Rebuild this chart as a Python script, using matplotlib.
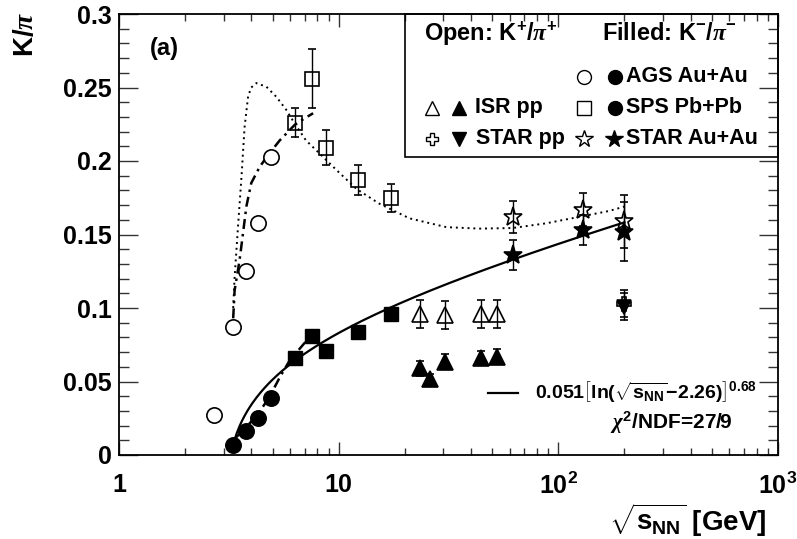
import numpy as np
import matplotlib
matplotlib.use("Agg")
import matplotlib.pyplot as plt
from matplotlib.patches import Rectangle
from matplotlib.ticker import FixedLocator, FixedFormatter, LogLocator, MultipleLocator, NullFormatter

# ---- data ----
# AGS Au+Au
ags_x = [2.7, 3.3, 3.8, 4.3, 4.9]
ags_kp = [0.027, 0.087, 0.125, 0.158, 0.203]
ags_km_x = [3.3, 3.8, 4.3, 4.9]
ags_km = [0.007, 0.016, 0.025, 0.039]
ags_km_err = [0.002, 0.003, 0.003, 0.004]

# SPS Pb+Pb
sps_x = [6.3, 7.6, 8.8, 12.3, 17.3]
sps_kp = [0.226, 0.256, 0.209, 0.187, 0.175]
sps_kp_err = [0.010, 0.020, 0.012, 0.010, 0.0095]
sps_km = [0.066, 0.081, 0.071, 0.084, 0.096]

# ISR pp
isr_x = [23.5, 30.6, 44.6, 52.8]
isr_kp = [0.096, 0.095, 0.096, 0.096]
isr_kp_err = [0.0095, 0.0095, 0.0095, 0.0095]
isr_km_x = [23.5, 26.0, 30.6, 44.6, 52.8]
isr_km = [0.059, 0.052, 0.0635, 0.066, 0.067]
isr_km_err = [0.005, 0.003, 0.005, 0.005, 0.005]

# STAR pp
starpp_x = [200]
starpp_kp = [0.103]
starpp_kp_err = [0.009]
starpp_km = [0.101]
starpp_km_err = [0.009]

# STAR Au+Au
star_x = [62.4, 130, 200]
star_kp = [0.162, 0.167, 0.159]
star_kp_err = [0.011, 0.011, 0.018]
star_km = [0.136, 0.153, 0.152]
star_km_err = [0.010, 0.010, 0.020]

# fit quoted in the figure: A*[ln(sqrt(s)-s0)]^p
fit_a, fit_s0, fit_p = 0.051, 2.26, 0.68
fit_range = (3.3, 200)

# model curves
dot_x = [3.31, 3.36, 3.48, 3.61, 3.73, 3.87, 4.0, 4.22, 4.69, 5.2, 5.78, 6.3, 7.1, 8.2,
         9.75, 12.05, 15.3, 21, 30.9, 43.7, 61.8, 87.9, 124.6, 170, 200]
dot_y = [0.100, 0.121, 0.155, 0.189, 0.223, 0.244, 0.250, 0.253, 0.2505, 0.2437, 0.2347,
         0.2256, 0.214, 0.205, 0.194, 0.181, 0.171, 0.161, 0.155, 0.154, 0.1544, 0.1576,
         0.162, 0.166, 0.169]
dd_x = [3.31, 3.36, 3.54, 3.67, 3.8, 4.0, 4.37, 4.77, 5.39, 6.3, 7.0, 7.65]
dd_y = [0.093, 0.112, 0.1327, 0.151, 0.169, 0.185, 0.196, 0.204, 0.214, 0.2245, 0.229, 0.2325]
ld_x = [3.31, 3.8, 4.3, 4.85, 5.4, 6.0, 6.77, 7.4]
ld_y = [0.010, 0.019, 0.028, 0.0397, 0.053, 0.0646, 0.0737, 0.0805]

xtick_vals = [1, 10, 100, 1000]
xtick_labels = ["1", "10", "10$^{2}$", "10$^{3}$"]
ytick_vals = [0, 0.05, 0.1, 0.15, 0.2, 0.25, 0.3]
ytick_labels = ["0", "0.05", "0.1", "0.15", "0.2", "0.25", "0.3"]

# ---- style ----
plt.rcParams["font.family"] = ["Liberation Sans", "DejaVu Sans"]
plt.rcParams["font.weight"] = "bold"
plt.rcParams["mathtext.fontset"] = "custom"
plt.rcParams["mathtext.rm"] = "Liberation Sans:bold"
plt.rcParams["mathtext.bf"] = "Liberation Sans:bold"
plt.rcParams["mathtext.it"] = "Liberation Serif:italic"
plt.rcParams["mathtext.default"] = "rm"

W, H = 797, 539


def fxy(px, py):
    """pixel position (from top-left) -> figure fraction"""
    return px / W, 1 - py / H


fig = plt.figure(figsize=(W / 100, H / 100), dpi=100)
ax = fig.add_axes([119 / W, 1 - 455 / H, (778 - 119) / W, (455 - 14) / H])

eb = dict(ecolor="black", elinewidth=1, capsize=3, capthick=1, linestyle="none",
          color="black", mew=1.2)
open_kw = dict(mfc="none", mec="black")
fill_kw = dict(mfc="black", mec="black")

# curves
xs = np.logspace(np.log10(fit_range[0]), np.log10(fit_range[1]), 300)
ax.plot(xs, fit_a * np.log(xs - fit_s0) ** fit_p, color="black", lw=1.6)
ax.plot(dot_x, dot_y, color="black", lw=1.4, linestyle=(0, (1, 2)))
ax.plot(dd_x, dd_y, color="black", lw=1.8, linestyle=(0, (4, 2, 1, 2)))
ax.plot(ld_x, ld_y, color="black", lw=1.8, linestyle=(0, (4, 2, 1, 2)))

# data
ax.plot(ags_x, ags_kp, "o", ms=11, mfc="white", mec="black", mew=1.2)
ax.errorbar(ags_km_x, ags_km, yerr=ags_km_err, fmt="o", ms=11, **fill_kw, **eb)
ax.errorbar(sps_x, sps_kp, yerr=sps_kp_err, fmt="s", ms=10, **open_kw, **eb)
ax.plot(sps_x, sps_km, "s", ms=9.5, **fill_kw)
ax.errorbar(isr_x, isr_kp, yerr=isr_kp_err, fmt="^", ms=11, **open_kw, **eb)
ax.errorbar(isr_km_x, isr_km, yerr=isr_km_err, fmt="^", ms=11, **fill_kw, **eb)
ax.errorbar(starpp_x, starpp_kp, yerr=starpp_kp_err, fmt="P", ms=10, **open_kw, **eb)
ax.errorbar(starpp_x, starpp_km, yerr=starpp_km_err, fmt="v", ms=10, **fill_kw, **eb)
ax.errorbar(star_x, star_kp, yerr=star_kp_err, fmt="*", ms=14, **open_kw, **eb)
ax.errorbar(star_x, star_km, yerr=star_km_err, fmt="*", ms=14, **fill_kw, **eb)

# axes
ax.set_xscale("log")
ax.set_xlim(1, 1000)
ax.set_ylim(0, 0.3)
ax.xaxis.set_major_locator(FixedLocator(xtick_vals))
ax.xaxis.set_major_formatter(FixedFormatter(xtick_labels))
ax.xaxis.set_minor_locator(LogLocator(base=10, subs=np.arange(2, 10)))
ax.xaxis.set_minor_formatter(NullFormatter())
ax.yaxis.set_major_locator(FixedLocator(ytick_vals))
ax.yaxis.set_major_formatter(FixedFormatter(ytick_labels))
ax.yaxis.set_minor_locator(MultipleLocator(0.01))
for s in ax.spines.values():
    s.set_linewidth(1.3)
ax.tick_params(which="both", direction="in", top=True, right=True, width=1, colors="#333333",
               labelcolor="black")
ax.tick_params(axis="x", which="major", length=9.5, pad=13, labelsize=18)
ax.tick_params(axis="x", which="minor", length=5)
ax.tick_params(axis="y", which="major", length=14, pad=5, labelsize=18)
ax.tick_params(axis="y", which="minor", length=7)

# axis titles
fig.text(*fxy(26, 12), r"K/$\mathit{\pi}$", rotation=90, ha="center", va="top", fontsize=20)
fig.text(*fxy(766, 520), r"$\sqrt{s_{NN}}$ [GeV]", ha="right", va="center", fontsize=20)
fig.text(*fxy(150, 48), "(a)", ha="left", va="center", fontsize=17)

# fit annotation
fig.add_artist(plt.Line2D([488 / W, 518 / W], [1 - 393 / H] * 2, color="black", lw=1.6))
fig.text(*fxy(535, 391), r"$0.051\left[\ln(\sqrt{s_{NN}}{-}2.26)\right]^{0.68}$",
         ha="left", va="center", fontsize=14)
fig.text(*fxy(733, 423), r"$\mathit{\chi}^{2}$/NDF=27/9", ha="right", va="center", fontsize=15)

# legend box (drawn by hand to keep the open/filled layout)
x0, y0 = fxy(405, 157)
x1, y1 = fxy(778, 14)
fig.add_artist(Rectangle((x0, y0), x1 - x0, y1 - y0, transform=fig.transFigure,
                         fill=False, edgecolor="black", lw=1.2))
fig.text(*fxy(424, 34), r"Open: K$^{+}$/$\mathit{\pi}^{+}$", ha="left", va="center", fontsize=17)
fig.text(*fxy(602, 34), r"Filled: K$^{-}$/$\mathit{\pi}^{-}$", ha="left", va="center", fontsize=17)

legend_rows = [
    # (open marker, open ms, filled marker, filled ms, x_open, x_filled, x_text, y, label)
    ("o", 10, "o", 10, 584, 615, 626, 77, "AGS Au+Au"),
    ("^", 10, "^", 10, 432, 459, 475, 108, "ISR pp"),
    ("s", 9.5, "o", 10, 584, 615, 626, 108, "SPS Pb+Pb"),
    ("P", 9, "v", 10, 432, 459, 476, 139, "STAR pp"),
    ("*", 13, "*", 13, 584, 614, 626, 139, "STAR Au+Au"),
]
for mo, mso, mf, msf, xo, xf, xt, yr, lab in legend_rows:
    fig.add_artist(plt.Line2D([xo / W], [1 - yr / H], marker=mo, ms=mso, mfc="white",
                              mec="black", mew=1, linestyle="none"))
    fig.add_artist(plt.Line2D([xf / W], [1 - yr / H], marker=mf, ms=msf, mfc="black",
                              mec="black", mew=1, linestyle="none"))
    fig.text(*fxy(xt, yr), lab, ha="left", va="center", fontsize=15.5)

fig.savefig("out.png", dpi=100)
